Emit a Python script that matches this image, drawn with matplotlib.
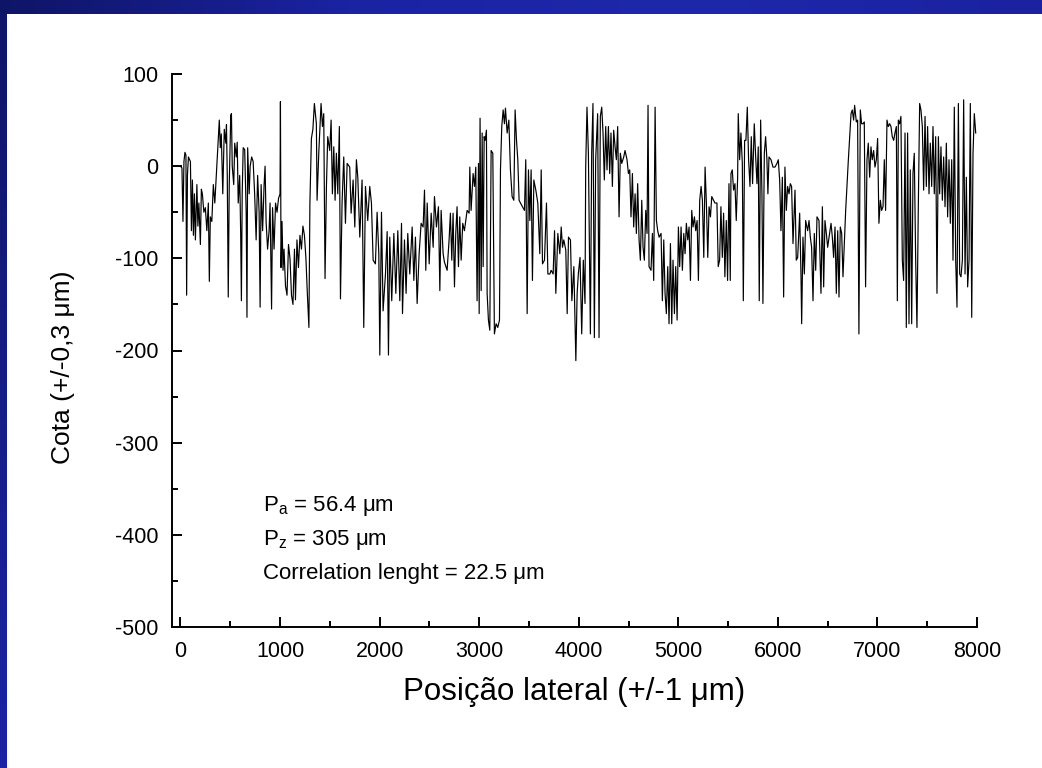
import numpy as np
import matplotlib
matplotlib.use("Agg")
import matplotlib.pyplot as plt
from matplotlib.ticker import MultipleLocator
from matplotlib.colors import LinearSegmentedColormap

plt.rcParams['font.family'] = ['Liberation Sans', 'DejaVu Sans']
plt.rcParams['mathtext.fontset'] = 'custom'
plt.rcParams['mathtext.rm'] = 'Liberation Sans'
plt.rcParams['mathtext.it'] = 'Liberation Sans'
plt.rcParams['axes.unicode_minus'] = False

## profile: lateral position (um) and height (um)
pos = [0, 15, 25, 35, 45, 55, 62, 70, 80, 100, 110, 120, 130, 140, 150, 165, 175, 185, 200, 210,
       220, 235, 250, 265, 280, 290, 300, 315, 330, 345, 360, 380, 390, 400, 410, 425, 440, 455, 462, 470,
       480, 490, 505, 512, 520, 535, 545, 560, 570, 580, 595, 605, 612, 620, 630, 645, 660, 668, 675, 690,
       700, 715, 730, 745, 760, 775, 790, 800, 810, 825, 840, 850, 860, 875, 890, 900, 915, 925, 940, 955,
       970, 985, 1000, 1004, 1010, 1020, 1030, 1040, 1055, 1070, 1085, 1100, 1115, 1130, 1145, 1155, 1170, 1185, 1200, 1215,
       1230, 1245, 1260, 1275, 1290, 1300, 1315, 1330, 1345,
       1365, 1372, 1389, 1412, 1426, 1439, 1452, 1466, 1479, 1499, 1513, 1526, 1540, 1553, 1566, 1580, 1596, 1607, 1623, 1640,
       1657, 1674, 1700, 1714, 1734, 1751, 1767, 1781, 1801, 1824, 1841, 1858, 1881, 1901, 1918, 1935, 1958, 1975, 1992, 2002,
       2019, 2035, 2059, 2076, 2089, 2102, 2122, 2143, 2163, 2183, 2203, 2220, 2230, 2250, 2266, 2283, 2303, 2327, 2344, 2360,
       2377, 2397, 2417, 2437, 2451, 2464, 2478, 2498, 2518, 2538, 2551, 2571, 2591, 2605, 2618, 2638,
       2651, 2678, 2698, 2711, 2725, 2738, 2752, 2765, 2778, 2792, 2805, 2819, 2835, 2852, 2879, 2899, 2906, 2919, 2939, 2953,
       2966, 2979, 2993, 3000, 3009, 3020, 3030, 3040, 3050, 3060, 3073, 3080, 3093, 3107, 3120, 3137, 3153, 3170, 3187, 3204,
       3214, 3227, 3241, 3254, 3264, 3281, 3298, 3314, 3331, 3348, 3361, 3375, 3388, 3401, 3415, 3435, 3455, 3468, 3482, 3495,
       3509, 3522, 3535, 3549, 3569, 3589, 3609, 3623, 3636, 3656, 3676, 3690, 3710, 3723, 3743, 3757, 3770, 3790, 3810, 3824,
       3837, 3850, 3870, 3884, 3897, 3917, 3931, 3951, 3971, 3984,
       3996, 4013, 4030, 4046, 4063, 4070, 4083, 4097, 4117, 4130, 4143, 4157, 4170, 4190, 4204, 4217, 4231, 4244, 4257, 4271,
       4284, 4298, 4311, 4324, 4338, 4351, 4365, 4378, 4391, 4405, 4418, 4432, 4452, 4465, 4485, 4499, 4512, 4525, 4539, 4552,
       4566, 4579, 4592, 4606, 4619, 4633, 4646, 4659, 4673, 4686, 4696, 4706, 4726, 4740, 4753, 4767, 4780, 4793, 4807, 4827,
       4840, 4854, 4867, 4880, 4894, 4907, 4921, 4934, 4947, 4961, 4974, 4988, 5001, 5014, 5028, 5041, 5055, 5068, 5081, 5095,
       5108, 5122, 5135, 5148, 5162, 5175, 5189, 5202, 5215, 5229, 5242, 5256, 5269, 5282, 5296, 5309, 5323, 5336,
       5368, 5388, 5401, 5415, 5428, 5442, 5455, 5468, 5482, 5495, 5509, 5522, 5529, 5542, 5555, 5569, 5582, 5596, 5602, 5616,
       5629, 5643, 5653, 5666, 5679, 5693, 5706, 5720, 5733, 5746, 5763, 5777, 5790, 5803, 5813, 5827, 5840, 5850, 5864, 5877,
       5890, 5900, 5911, 5931, 5951, 5971, 5991, 6004, 6018, 6031, 6045, 6058, 6071, 6085, 6098, 6112, 6125, 6138, 6152, 6172,
       6185, 6199, 6219, 6232, 6239, 6252, 6266, 6279, 6299, 6313, 6326, 6339, 6353, 6366, 6380, 6393, 6413, 6433, 6447, 6460,
       6473, 6487, 6500, 6514, 6534, 6547, 6560, 6574, 6587, 6601, 6614, 6627, 6641, 6654, 6668, 6681, 6708, 6735,
       6747, 6761, 6771, 6788, 6801, 6814, 6828, 6841, 6855, 6868, 6881, 6895, 6908, 6922, 6935, 6948, 6962, 6975, 6989, 7002,
       7015, 7029, 7042, 7056, 7069, 7082, 7096, 7109, 7123, 7136, 7149, 7163, 7176, 7190, 7200, 7210, 7223, 7236, 7250, 7263,
       7277, 7290, 7303, 7317, 7330, 7344, 7357, 7370, 7384, 7397, 7411, 7424, 7437, 7451, 7464, 7478, 7491, 7504, 7518, 7531,
       7545, 7558, 7571, 7585, 7598, 7612, 7625, 7638, 7652, 7665, 7679, 7692, 7705, 7719, 7732, 7746, 7759, 7772, 7786, 7799,
       7813, 7826, 7839, 7853, 7866, 7880, 7893, 7906, 7920, 7933, 7947, 7960, 7973, 7987]

cota = [0, -2, -60, 5, 15, 12, -140, -10, 10, 5, -70, -15, -75, -30, -80, -20, -65, -40, -85, -25,
        -30, -50, -45, -70, -40, -125, -55, -60, -20, -40, -10, 30, 50, 20, 35, -30, 40, 25, 45, -10,
        -142, -20, 55, 57, 0, -20, 25, 10, 26, -40, -10, -75, -146, -30, 20, 18, -50, -164, 20, -30,
        0, 10, 5, -30, -80, -10, -50, -153, -20, -70, -20, 0, -60, -90, -70, -40, -155, -45, -90, -40,
        -50, -35, -30, 70, -110, -60, -113, -90, -130, -140, -85, -100, -140, -150, -90, -145, -80, -110, -75, -90,
        -65, -75, -100, -140, -175, -40, 30, 40, 68,
        46, -37, 14, 68, 43, 57, -122, -22, 32, 17, 50, -30, 21, -37, 14, -30, 43, -144, -40, 10,
        -62, 3, -1, -51, -15, -66, 7, -12, -77, -15, -175, -22, -59, -22, -40, -102, -106, -50, -95, -205,
        -50, -157, -117, -71, -205, -77, -146, -73, -138, -70, -146, -62, -160, -80, -138, -73, -117, -66, -124, -77,
        -149, -95, -62, -66, -26, -113, -40, -106, -51, -88, -33, -66, -44, -135, -48, -95,
        -104, -113, -80, -51, -102, -51, -131, -73, -44, -109, -55, -102, -62, -70, -48, -51, -1, -48, -8, -22,
        -1, -146, 3, -160, 52, -135, 36, -109, 32, 28, 39, -138, -167, -178, 17, 14, -182, -171, -175, -167,
        -4, 43, 61, 46, 63, 36, 50, -4, -33, -37, 61, 28, 7, -37, -40, -44, -48, 7, -160, -4,
        -59, -4, -124, -15, -26, -40, -95, -4, -106, -102, -40, -117, -117, -113, -117, -70, -138, -73, -95, -66,
        -88, -80, -91, -160, -77, -80, -146, -109, -211, -138,
        -117, -99, -182, -102, -149, -1, 64, 14, -182, 14, 68, -186, 7, 57, -186, 54, 64, 36, -15, 43,
        -4, 43, -8, 36, -22, 39, 21, 7, 43, -55, 14, 3, 10, 17, 7, -8, -4, -55, -8, -66,
        -30, -73, -19, -80, -102, -37, -88, -102, -48, -73, 66, -109, -113, -73, -124, 64, -59, -70, -77, -73,
        -146, -80, -138, -160, -109, -171, -84, -171, -102, -160, -109, -167, -66, -109, -66, -113, -73, -95, -62, -80,
        -66, -124, -48, -66, -55, -70, -59, -124, -37, -22, -37, -99, -1, -40, -99, -44, -55, -33,
        -40, -40, -109, -102, -44, -99, -51, -120, -59, -124, -19, -124, -8, -4, -26, -19, -59, -12, 57, 7,
        36, 3, -146, 28, 28, 64, 7, -22, 32, -19, 46, 10, -19, 21, -146, 50, -30, -149, 14, 32,
        7, -30, 10, 7, -1, -1, 3, 7, -15, -70, -12, -142, -1, -48, -22, -30, -19, -22, -84, -26,
        -102, -99, -51, -117, -171, -77, -117, -59, -70, -59, -77, -88, -146, -73, -113, -55, -59, -138, -44, -131,
        -59, -73, -88, -77, -62, -77, -99, -66, -138, -70, -142, -66, -73, -120, -84, -48, 7, 57,
        61, 50, 66, 48, 50, -182, 61, 46, 46, 48, -131, 7, 25, -12, 21, 7, 17, -1, 7, 30,
        -62, -37, -48, -44, 7, -48, 50, 43, 46, 43, 32, 28, 36, 43, -146, 50, 46, 54, -102, -124,
        36, -175, 36, -171, -4, -171, -8, 14, -102, -175, -40, 68, 61, 43, -26, 54, -22, 43, -30, 25,
        -22, 43, -30, 32, -138, 32, -30, 21, -37, 10, -44, 25, -55, 7, -62, 7, -102, 64, -102, -153,
        68, -117, -120, -102, 72, -117, -12, -131, -102, 68, -164, 14, 57, 36]

xticks = [0, 1000, 2000, 3000, 4000, 5000, 6000, 7000, 8000]
yticks = [100, 0, -100, -200, -300, -400, -500]

fig = plt.figure(figsize=(10.42, 7.68), dpi=100)
fig.patch.set_facecolor('white')

# dark blue slide frame on the top and left edges
cmap = LinearSegmentedColormap.from_list('frame', ['#0f1566', '#1a23a2', '#1e28ab', '#1a22a0'])
top = fig.add_axes([0, 1 - 14 / 768, 1, 14 / 768])
top.imshow(np.linspace(0, 1, 200)[None, :], aspect='auto', cmap=cmap)
top.axis('off')
left = fig.add_axes([0, 0, 7 / 1042, 1])
left.imshow(np.linspace(0, 1, 200)[:, None], aspect='auto',
            cmap=LinearSegmentedColormap.from_list('lf', ['#0f1566', '#1a24a4']))
left.axis('off')

ax = fig.add_axes([172 / 1042, 1 - 627 / 768, (977 - 172) / 1042, (627 - 74) / 768])
ax.plot(pos, cota, color='black', lw=0.85)

ax.set_xlim(-85, 8000)
ax.set_ylim(-500, 100)
ax.set_xticks(xticks)
ax.set_yticks(yticks)
ax.xaxis.set_minor_locator(MultipleLocator(500))
ax.yaxis.set_minor_locator(MultipleLocator(50))
for s in ['top', 'right']:
    ax.spines[s].set_visible(False)
for s in ['left', 'bottom']:
    ax.spines[s].set_linewidth(1.4)
ax.tick_params(which='major', direction='in', length=7.5, width=1.4, labelsize=15.5, pad=10)
ax.tick_params(which='minor', direction='in', length=4, width=1.4)

ax.set_xlabel('Posição lateral (+/-1 μm)', fontsize=22.5)
ax.set_ylabel('Cota (+/-0,3 μm)', fontsize=19)
ax.xaxis.set_label_coords(0.5, -0.09)
ax.yaxis.set_label_coords(-0.12, 0.47)

ax.text(263 / 1042, 1 - 511 / 768, r'$\mathrm{P_a}$ = 56.4 μm', fontsize=16, transform=fig.transFigure)
ax.text(263 / 1042, 1 - 545 / 768, r'$\mathrm{P_z}$ = 305 μm', fontsize=16, transform=fig.transFigure)
ax.text(263 / 1042, 1 - 579 / 768, 'Correlation lenght = 22.5 μm', fontsize=16, transform=fig.transFigure)

fig.savefig('out.png', dpi=100)
